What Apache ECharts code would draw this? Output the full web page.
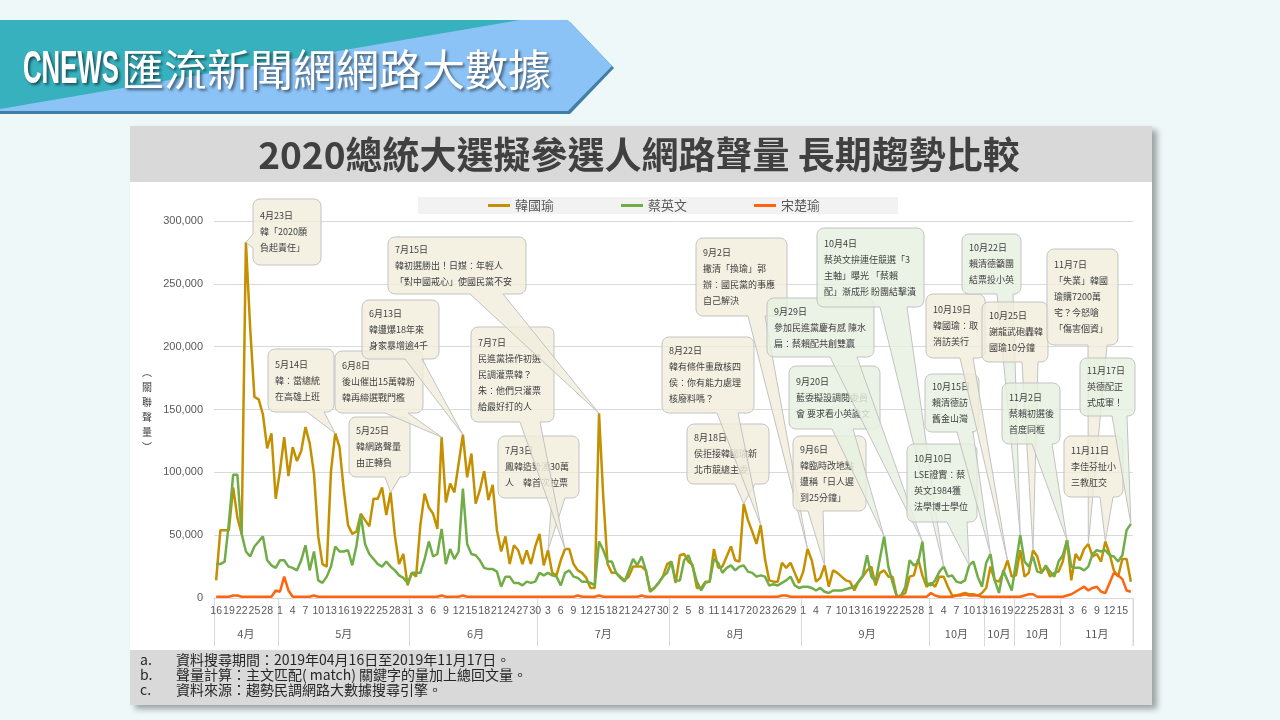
<!DOCTYPE html>
<html><head><meta charset="utf-8">
<script src="https://cdn.jsdelivr.net/npm/echarts@6/dist/echarts.min.js"></script>
<style>html,body{margin:0;padding:0;background:#eef8f8;}#c{width:1280px;height:720px;}</style>
</head><body><div id="c"></div>
<script>
// ---------- categories (2019-04-16 .. 2019-11-17) ----------
const categories = [];
for (let k = 0; k < 216; k++) { const d = new Date(2019, 3, 16 + k); categories.push((d.getMonth() + 1) + '/' + d.getDate()); }

// ---------- series values (daily volume) ----------
const hanKuoYu = [
14000,54000,54000,54000,88000,64000,51000,283000,215000,160000,158000,146000,119000,131000,79000,
101000,128000,97000,120000,109000,117000,136000,123000,99000,49000,27000,25000,101000,131000,120000,86000,58000,51000,53000,67000,62000,57000,79000,79000,88000,66000,84000,50000,27000,35000,10000,
20000,17000,58000,83000,72000,67000,55000,128000,76000,91000,84000,107000,130000,96000,115000,75000,86000,101000,78000,90000,54000,37000,49000,27000,42000,38000,27000,38000,27000,41000,
51000,26000,38000,20000,18000,30000,39000,39000,27000,22000,20000,16000,8000,8000,147000,80000,27000,20000,20000,17000,14000,17000,25000,25000,25000,22000,5000,8000,12000,17000,27000,
29000,12000,34000,35000,29000,26000,8000,8000,13000,13000,39000,24000,25000,33000,41000,30000,29000,75000,62000,53000,43000,58000,31000,14000,13000,13000,28000,24000,28000,20000,12000,
21000,39000,30000,13000,16000,26000,9000,22000,20000,17000,14000,13000,6000,13000,17000,22000,25000,10000,20000,22000,17000,17000,1000,2000,4000,17000,18000,31000,18000,9000,
12000,9000,17000,17000,9000,2000,2000,3000,4000,3000,3000,2000,4000,8000,25000,14000,13000,20000,30000,17000,18000,38000,17000,20000,38000,33000,20000,25000,17000,20000,21000,
29000,46000,14000,35000,30000,39000,43000,33000,35000,29000,45000,35000,22000,17000,31000,31000,13000];
const tsaiIngWen = [
27000,27000,29000,60000,98000,98000,51000,37000,33000,41000,45000,49000,30000,26000,24000,
30000,30000,25000,24000,22000,30000,42000,22000,37000,14000,12000,17000,25000,41000,37000,37000,38000,26000,42000,66000,43000,35000,31000,27000,25000,29000,25000,22000,18000,16000,12000,
20000,20000,20000,31000,45000,33000,35000,55000,27000,39000,31000,37000,87000,43000,35000,34000,30000,24000,23000,23000,21000,9000,17000,17000,12000,12000,10000,13000,12000,13000,
20000,18000,20000,18000,17000,10000,20000,22000,17000,16000,13000,13000,12000,10000,45000,38000,29000,29000,20000,16000,13000,22000,31000,26000,33000,22000,6000,8000,12000,17000,20000,
29000,14000,14000,30000,34000,25000,13000,6000,12000,13000,31000,28000,20000,24000,26000,22000,25000,26000,21000,20000,17000,18000,17000,10000,11000,10000,12000,14000,17000,10000,8000,
9000,9000,8000,6000,8000,5000,4000,6000,6000,6000,7000,8000,9000,13000,18000,34000,17000,13000,31000,49000,25000,12000,1000,2000,9000,30000,26000,28000,45000,12000,
10000,14000,21000,25000,17000,18000,13000,12000,14000,26000,29000,17000,9000,28000,35000,14000,4000,22000,14000,6000,28000,50000,29000,25000,33000,21000,20000,26000,21000,17000,29000,
34000,46000,25000,24000,24000,22000,25000,35000,38000,37000,38000,34000,33000,29000,34000,54000,59000];
const soongChuYu = [
1000,1000,1000,1000,2000,2000,1000,1000,1000,1000,1000,1000,1000,1000,6000,
5000,17000,6000,1000,1000,1000,1000,1000,2000,1000,1000,1000,1000,1000,1000,1000,1000,1000,1000,1000,1000,1000,1000,1000,1000,1000,1000,1000,1000,1000,1000,
1000,1000,1000,1000,1000,1000,1000,2000,1000,1000,1000,1000,2000,1000,1000,1000,1000,1000,1000,1000,1000,1000,1000,1000,1000,1000,1000,1000,1000,1000,
1000,1000,1000,1000,1000,1000,1000,1000,1000,2000,1000,1000,1000,1000,2000,1000,1000,1000,1000,1000,1000,1000,1000,1000,2000,1000,1000,1000,1000,1000,1000,
1000,1000,1000,1000,1000,1000,1000,1000,1000,1000,1000,1000,1000,1000,1000,1000,1000,1000,1000,1000,1000,1000,1000,1000,1000,1000,2000,2000,1000,1000,1000,
1000,1000,1000,1000,1000,1000,1000,1000,1000,1000,1000,1000,1000,1000,1000,1000,1000,1000,1000,1000,1000,1000,1000,1000,1000,1000,1000,1000,1000,1000,
4000,2000,1000,1000,1000,1000,2000,2000,3000,2000,2000,2000,1000,1000,1000,1000,1000,1000,1000,1000,1000,1000,2000,3000,3000,1000,1000,1000,1000,1000,1000,
1000,2000,3000,5000,7000,9000,6000,8000,9000,5000,4000,12000,20000,18000,15000,6000,5000];
const seriesNames = ['韓國瑜', '蔡英文', '宋楚瑜'];

// ---------- axis labels ----------
const monthGroups = [['4月',0,14],['5月',15,45],['6月',46,75],['7月',76,106],['8月',107,137],['9月',138,167],['10月',168,180],['10月',181,187],['10月',188,198],['11月',199,215]];
const yAxisName = '︵\n關\n聯\n聲\n量\n︶';
const chartTitle = '2020總統大選擬參選人網路聲量 長期趨勢比較';
const headerBrand = 'CNEWS';
const headerText = '匯流新聞網網路大數據';
const notes = [['a.','資料搜尋期間：2019年04月16日至2019年11月17日。'],['b.','聲量計算：主文匹配( match) 關鍵字的量加上總回文量。'],['c.','資料來源：趨勢民調網路大數據搜尋引擎。']];

// ---------- callouts (anchor date, series, text) ----------
const callouts = [
 {date:'4月23日', at:'4/23', who:0, text:['韓「2020願','負起責任」']},
 {date:'5月14日', at:'5/14', who:0, text:['韓：當總統','在高雄上班']},
 {date:'5月25日', at:'5/27', who:0, text:['韓網路聲量','由正轉負']},
 {date:'6月8日', at:'6/8', who:0, text:['後山催出15萬韓粉','韓再締選戰門檻']},
 {date:'6月13日', at:'6/13', who:0, text:['韓遭爆18年來','身家暴增逾4千']},
 {date:'7月3日', at:'7/3', who:0, text:['鳳韓造勢湧30萬','人　韓首次拉票']},
 {date:'7月7日', at:'7/7', who:0, text:['民進黨操作初選','民調灌票韓？','朱：他們只灌票','給最好打的人']},
 {date:'7月15日', at:'7/15', who:0, text:['韓初選勝出！日媒：年輕人','「對中國戒心」使國民黨不安']},
 {date:'8月18日', at:'8/18', who:0, text:['侯拒接韓國瑜新','北市競總主委']},
 {date:'8月22日', at:'8/22', who:0, text:['韓有條件重啟核四','侯：你有能力處理','核廢料嗎？']},
 {date:'9月2日', at:'9/2', who:0, text:['撇清「換瑜」郭','辦：國民黨的事應','自己解決']},
 {date:'9月6日', at:'9/6', who:0, text:['韓臨時改地點','遭稱「日人遲','到25分鐘」']},
 {date:'9月20日', at:'9/20', who:1, text:['藍委擬設調閱委員','會 要求看小英論文']},
 {date:'9月29日', at:'9/29', who:1, text:['參加民進黨慶有感 陳水','扁：蔡賴配共創雙贏']},
 {date:'10月4日', at:'10/4', who:1, text:['蔡英文拚連任競選「3','主軸」曝光 「蔡賴','配」漸成形 盼團結擊潰']},
 {date:'10月10日', at:'10/10', who:1, text:['LSE證實：蔡','英文1984獲','法學博士學位']},
 {date:'10月15日', at:'10/15', who:1, text:['賴清德訪','舊金山灣']},
 {date:'10月19日', at:'10/19', who:0, text:['韓國瑜：取','消訪美行']},
 {date:'10月22日', at:'10/22', who:1, text:['賴清德籲團','結票投小英']},
 {date:'10月25日', at:'10/25', who:0, text:['謝龍武砲轟韓','國瑜10分鐘']},
 {date:'11月2日', at:'11/2', who:1, text:['蔡賴初選後','首度同框']},
 {date:'11月7日', at:'11/7', who:0, text:['「失業」韓國','瑜購7200萬','宅？今怒嗆','「傷害個資」']},
 {date:'11月11日', at:'11/11', who:0, text:['李佳芬扯小','三教肛交']},
 {date:'11月17日', at:'11/17', who:1, text:['英德配正','式成軍！']}
];
// callout box layout: [x, y, w, h, wedge side, base0, base1]
const calloutBoxes = [
 [253,199,68,66,'left',234,248],
 [268,349,66,63,'bottom',307,324],
 [349,417,61,60,'bottom',385,400],
 [335,351,88,62,'bottom',385,408],
 [362,300,77,59,'bottom',405,422],
 [498,436,81,62,'bottom',552,565],
 [471,327,83,95,'bottom',520,540],
 [388,237,138,57,'bottom',470,503],
 [687,424,82,60,'bottom',735,755],
 [662,337,92,76,'bottom',717,738],
 [696,238,91,78,'bottom',748,765],
 [793,436,73,75,'bottom',808,823],
 [789,366,91,63,'bottom',832,853],
 [767,298,107,59,'bottom',830,857],
 [817,228,107,79,'bottom',880,907],
 [907,444,70,78,'bottom',947,967],
 [925,374,54,58,'bottom',957,973],
 [926,294,59,64,'bottom',960,973],
 [962,234,59,60,'bottom',997,1013],
 [982,302,66,60,'bottom',1022,1038],
 [1002,383,58,61,'bottom',1032,1052],
 [1047,249,71,96,'bottom',1088,1107],
 [1064,436,59,61,'bottom',1100,1113],
 [1080,358,55,58,'bottom',1112,1127]
];

const colors = ['#c49000', '#70ad47', '#ff6410'];
const allSeries = [hanKuoYu, tsaiIngWen, soongChuYu];
const groupStarts = monthGroups.map(g => g[1]);
const groupCenters = {};
monthGroups.forEach(g => { groupCenters[Math.round((g[1] + g[2]) / 2)] = g[0]; });
const calloutData = callouts.map(c => { const i = categories.indexOf(c.at); return [i, allSeries[c.who][i]]; });

function calloutShape(b, tip) {
  const [x, y, w, h, side, b0, b1] = b; const r = 7; const pts = [];
  const arc = (cx, cy, a0, a1) => { for (let k = 0; k <= 5; k++) { const a = a0 + (a1 - a0) * k / 5; pts.push([cx + r * Math.cos(a), cy + r * Math.sin(a)]); } };
  arc(x + r, y + r, Math.PI, 1.5 * Math.PI);
  arc(x + w - r, y + r, 1.5 * Math.PI, 2 * Math.PI);
  arc(x + w - r, y + h - r, 0, 0.5 * Math.PI);
  if (side === 'bottom') pts.push([b1, y + h], tip, [b0, y + h]);
  arc(x + r, y + h - r, 0.5 * Math.PI, Math.PI);
  if (side === 'left') pts.push([x, b1], tip, [x, b0]);
  return pts;
}

const CJK = '"Noto Sans CJK TC", "Noto Sans", sans-serif';
const GRID = { left: 214, right: 147, top: 221, bottom: 122 };
const chart = echarts.init(document.getElementById('c'));
chart.setOption({
  animation: false,
  backgroundColor: '#eef8f8',
  graphic: [
    // header banner
    { type: 'polygon', z: -20, shape: { points: [[0, 22], [570, 22], [614, 68], [570, 114], [0, 114]] }, style: { fill: '#3f7ea6' } },
    { type: 'polygon', z: -19, shape: { points: [[0, 20], [568, 20], [612, 66], [568, 111], [0, 111]] }, style: { fill: '#8cc3f6' } },
    { type: 'polygon', z: -18, shape: { points: [[0, 20], [520, 20], [0, 109]] }, style: { fill: '#38b1bf' } },
    { type: 'text', z: -17, x: 23, y: 70, scaleX: 0.56, style: { text: headerBrand, font: 'bold 46px "Liberation Sans", Arial, sans-serif', fill: '#ffffff', verticalAlign: 'middle', textShadowColor: 'rgba(0,0,0,0.55)', textShadowBlur: 3, textShadowOffsetX: 2, textShadowOffsetY: 2 } },
    { type: 'text', z: -17, x: 121, y: 70, style: { text: headerText, font: '43px ' + CJK, fill: '#ffffff', verticalAlign: 'middle', textShadowColor: 'rgba(0,0,0,0.55)', textShadowBlur: 3, textShadowOffsetX: 2, textShadowOffsetY: 2 } },
    // card
    { type: 'rect', z: -20, shape: { x: 130, y: 126, width: 1022, height: 579 }, style: { fill: '#ffffff', shadowBlur: 6, shadowOffsetX: 5, shadowOffsetY: 4, shadowColor: 'rgba(0,0,0,0.35)' } },
    { type: 'rect', z: -19, shape: { x: 130, y: 126, width: 1022, height: 56 }, style: { fill: '#d9d9d9' } },
    { type: 'rect', z: -19, shape: { x: 130, y: 650, width: 1022, height: 55 }, style: { fill: '#d9d9d9' } },
    { type: 'text', z: -18, x: 639, y: 155, style: { text: chartTitle, font: 'bold 37px ' + CJK, fill: '#404040', align: 'center', verticalAlign: 'middle' } },
    // closing separator of the month row at the grid's right edge
    { type: 'line', z: -18, shape: { x1: 1280 - GRID.right, y1: 720 - GRID.bottom, x2: 1280 - GRID.right, y2: 720 - GRID.bottom + 48 }, style: { stroke: '#d9d9d9', lineWidth: 1 } },
    ...notes.flatMap((n, k) => [
      { type: 'text', z: -18, x: 140, y: 660 + k * 15, style: { text: n[0], font: '14px ' + CJK, fill: '#262626', verticalAlign: 'middle' } },
      { type: 'text', z: -18, x: 176, y: 660 + k * 15, style: { text: n[1], font: '14px ' + CJK, fill: '#262626', verticalAlign: 'middle' } }
    ])
  ],
  legend: {
    top: 197, left: 418, backgroundColor: '#f2f2f2', padding: [2, 78, 2, 70],
    itemWidth: 22, itemHeight: 3, itemGap: 67, icon: 'rect',
    textStyle: { fontSize: 13, color: '#595959', fontFamily: CJK },
    data: seriesNames
  },
  grid: GRID,
  xAxis: [{
    type: 'category', data: categories, boundaryGap: true,
    axisLine: { lineStyle: { color: '#d9d9d9' } },
    axisTick: { show: true, length: 48, interval: (i) => groupStarts.includes(i), lineStyle: { color: '#d9d9d9' } },
    axisLabel: { interval: 2, margin: 8, fontSize: 10.5, color: '#595959', fontFamily: 'Liberation Sans, Arial, sans-serif', formatter: v => v.split('/')[1] }
  }, {
    type: 'category', data: categories, boundaryGap: true, position: 'bottom', offset: 22,
    axisLine: { show: false }, axisTick: { show: false },
    axisLabel: { interval: (i) => groupCenters[i] !== undefined, margin: 8, fontSize: 11, color: '#595959', fontFamily: CJK, formatter: (v, i) => groupCenters[i] || '' }
  }],
  yAxis: {
    type: 'value', min: 0, max: 300000, interval: 50000,
    name: yAxisName, nameLocation: 'middle', nameGap: 62, nameRotate: 0,
    nameTextStyle: { fontSize: 10, lineHeight: 15, color: '#404040', fontFamily: CJK },
    axisLine: { show: false }, axisTick: { show: false },
    splitLine: { lineStyle: { color: '#d9d9d9', width: 1 } },
    axisLabel: { margin: 11, fontSize: 11, color: '#595959', fontFamily: 'Liberation Sans, Arial, sans-serif', formatter: v => v.toLocaleString('en-US') }
  },
  series: [
    ...allSeries.map((d, k) => ({ name: seriesNames[k], type: 'line', data: d, symbol: 'none', color: colors[k], lineStyle: { width: 2.5, color: colors[k] }, z: 2 + k })),
    {
      type: 'custom', name: 'callouts', data: calloutData, z: 10, silent: true, clip: false,
      encode: { x: 0, y: 1 },
      renderItem: (params, api) => {
        const c = callouts[params.dataIndex], b = calloutBoxes[params.dataIndex];
        const tip = api.coord([api.value(0), api.value(1)]);
        const fill = c.who === 0 ? 'rgba(242,237,220,0.82)' : 'rgba(230,240,224,0.82)';
        return { type: 'group', children: [
          { type: 'polygon', shape: { points: calloutShape(b, tip) }, style: { fill: fill, stroke: '#c3c3c3', lineWidth: 1 } },
          { type: 'text', x: b[0] + 7, y: b[1] + b[3] / 2, style: { text: [c.date].concat(c.text).join('\n'), font: '9px ' + CJK, fill: '#404040', lineHeight: 16, verticalAlign: 'middle' } }
        ] };
      }
    }
  ]
});
</script></body></html>
